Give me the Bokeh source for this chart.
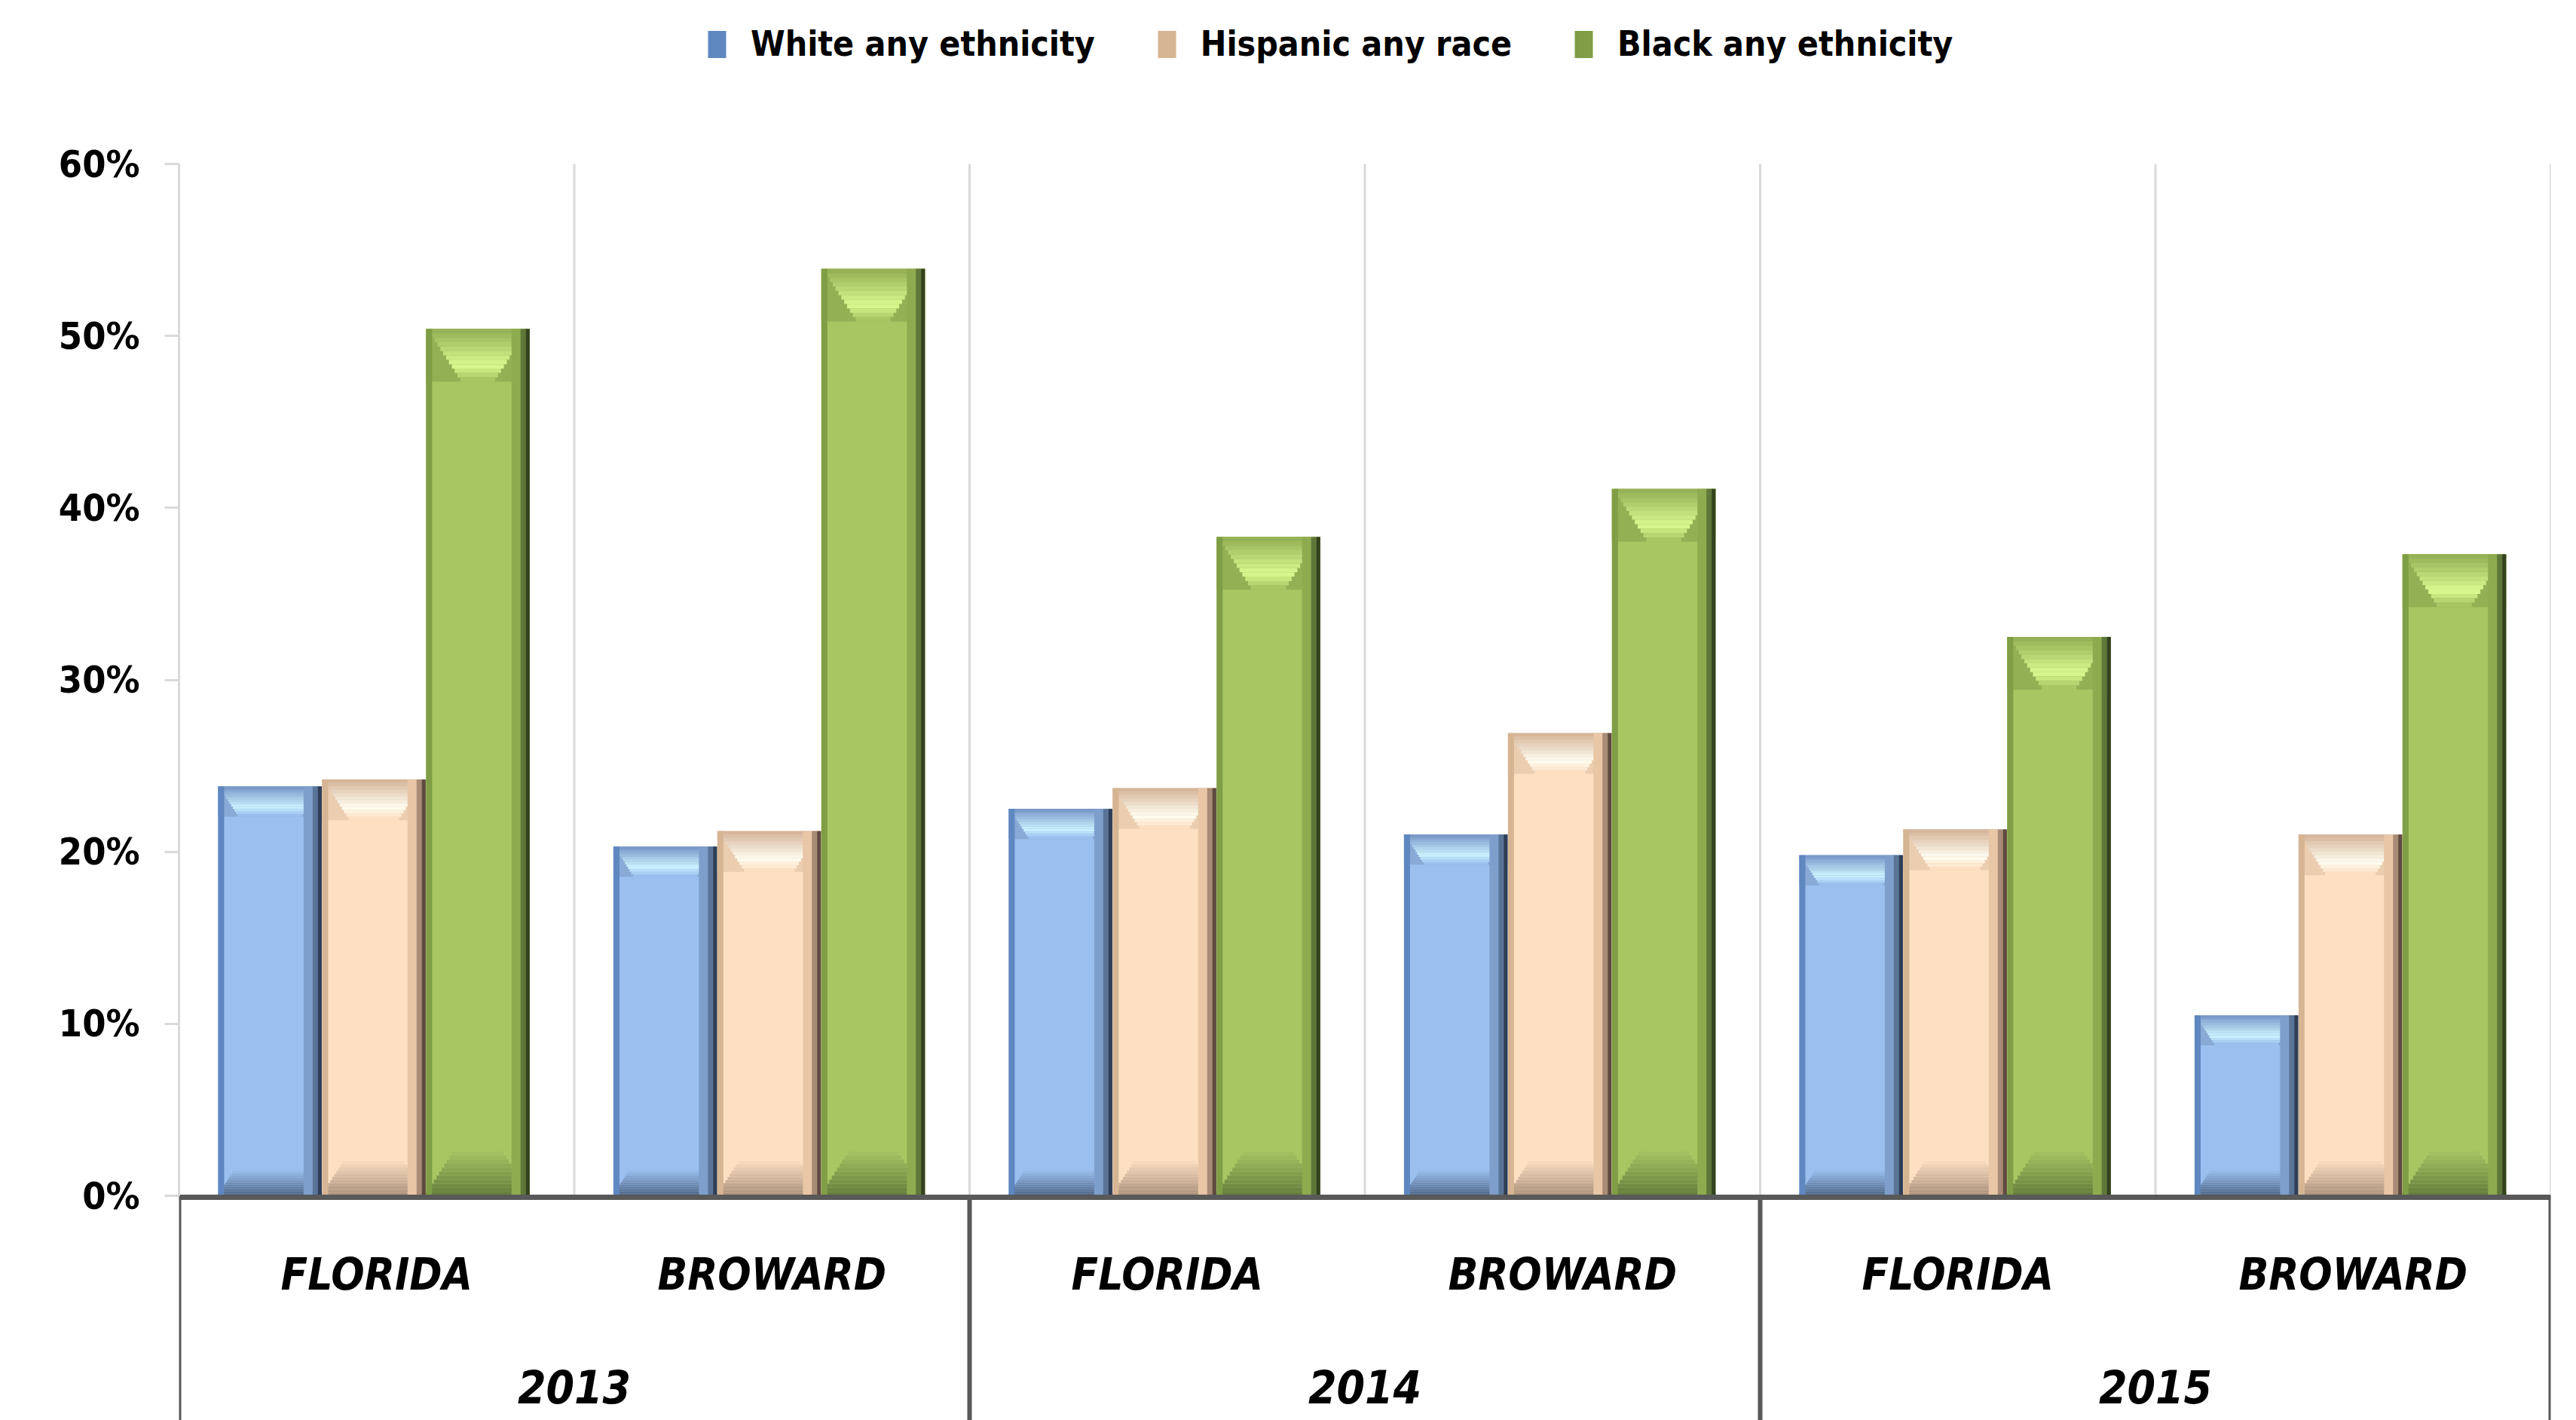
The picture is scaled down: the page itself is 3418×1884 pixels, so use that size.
from bokeh.plotting import figure
from bokeh.models import Range1d, FixedTicker, PrintfTickFormatter, Legend, LegendItem
from bokeh.core.properties import value
from bokeh.embed import file_html
from bokeh.resources import INLINE

# ---------------- data ----------------
years = ["2013", "2014", "2015"]
regions = ["FLORIDA", "BROWARD"]
series_names = ["White any ethnicity", "Hispanic any race", "Black any ethnicity"]
white = [23.8, 20.3, 22.5, 21.0, 19.8, 10.5]
hispanic = [24.2, 21.2, 23.7, 26.9, 21.3, 21.0]
black = [50.4, 53.9, 38.3, 41.1, 32.5, 37.3]
y_ticks = [0, 10, 20, 30, 40, 50, 60]

# ---------------- layout constants ----------------
W, H = 3418, 1884
LEFT, RIGHT, TOP = 237, 34, 217
AXIS_PX = 1586
Y_MAX = 60
px_per_pct = (AXIS_PX - TOP) / Y_MAX
y_bottom = -(H - AXIS_PX) / px_per_pct
y_top = Y_MAX + TOP / px_per_pct
n_cat = len(years) * len(regions)
px_per_cat = (W - LEFT - RIGHT) / n_cat

FONT = "'DejaVu Sans Condensed', 'Liberation Sans Narrow', 'DejaVu Sans', sans-serif"


def px2x(px):
    return px / px_per_cat


def px2y(px):
    return px / px_per_pct


def hex2rgb(h):
    h = h.lstrip("#")
    return tuple(int(h[i:i + 2], 16) for i in (0, 2, 4))


def mix(c1, c2, t):
    a, b = hex2rgb(c1), hex2rgb(c2)
    t = max(0.0, min(1.0, t))
    return "#%02x%02x%02x" % tuple(int(round(a[i] + (b[i] - a[i]) * t)) for i in range(3))


p = figure(width=W, height=H, output_backend="svg", toolbar_location=None,
           x_range=Range1d(0, n_cat), y_range=Range1d(y_bottom, y_top),
           x_axis_location=None, min_border_left=LEFT, min_border_right=RIGHT,
           min_border_top=0, min_border_bottom=0)
p.outline_line_color = None
p.background_fill_color = "white"
p.border_fill_color = "white"
p.grid.grid_line_color = None

# category gridlines (light gray verticals)
bounds = list(range(n_cat + 1))
p.segment(x0=bounds, y0=[0] * len(bounds), x1=bounds, y1=[Y_MAX] * len(bounds),
          line_color="#D9D9D9", line_width=3)

BAR_W = 0.262
offsets = [-0.27, -0.007, 0.256]
styles = [
    dict(main="#9BC0F0", left="#5F87C0", side="#89A9D6", right=["#7E9FCC", "#5A7498", "#2F3E55"],
         rim="#7A9ACA", hi="#CDF4FF", bot="#4F6585", top_h=40, bot_h=36),
    dict(main="#FDE0C2", left="#D6B594", side="#EBCDB0", right=["#E8C6A6", "#A88B76", "#5E4A40"],
         rim="#D6B69C", hi="#FFFEF2", bot="#AE937E", top_h=54, bot_h=50),
    dict(main="#A7C763", left="#7F9E45", side="#93B154", right=["#8EAB50", "#60773A", "#34421F"],
         rim="#96B257", hi="#DBFA90", bot="#667F3E", top_h=70, bot_h=64),
]

legend_renderers = []
for vals, off, st in zip([white, hispanic, black], offsets, styles):
    xs = [i + 0.5 + off for i in range(n_cat)]
    # main body
    p.vbar(x=xs, width=BAR_W, top=vals, bottom=0, fill_color=st["main"], line_color=None)
    # bottom bevel trapezoid (darker)
    M = 12
    dh_px = st["bot_h"] / M
    for k in range(M):
        inset = px2x(k * dh_px * 0.65)
        p.vbar(x=xs, width=BAR_W - 2 * inset, bottom=[px2y(k * dh_px)] * n_cat,
               top=[px2y((k + 1) * dh_px)] * n_cat,
               fill_color=mix(st["bot"], st["main"], k / (M - 1)), line_color=None)
    # top bevel zone + trapezoid (highlight)
    N = 12
    dt_px = st["top_h"] / N
    p.vbar(x=xs, width=BAR_W, top=vals, bottom=[v - px2y(st["top_h"]) for v in vals],
           fill_color=st["side"], line_color=None)
    for k in range(N):
        inset = px2x((k + 1) * dt_px * 0.65)
        t = k / (N - 1)
        col = mix(st["rim"], st["hi"], t / 0.7) if t < 0.7 else mix(st["hi"], st["main"], (t - 0.7) / 0.3)
        p.vbar(x=xs, width=BAR_W - 2 * inset, top=[v - px2y(k * dt_px) for v in vals],
               bottom=[v - px2y((k + 1) * dt_px) for v in vals],
               fill_color=col, line_color=None)
    # top rim
    p.vbar(x=xs, width=BAR_W, top=vals, bottom=[v - px2y(4) for v in vals],
           fill_color=st["rim"], line_color=None)
    # left edge
    lw = px2x(8)
    r_left = p.vbar(x=[x - BAR_W / 2 + lw / 2 for x in xs], width=lw, top=vals, bottom=0,
                    fill_color=st["left"], line_color=None)
    legend_renderers.append(r_left)
    # right edge gradient
    for wpx, col in zip([24, 12, 5], st["right"]):
        sw = px2x(wpx)
        p.vbar(x=[x + BAR_W / 2 - sw / 2 for x in xs], width=sw, top=vals, bottom=0,
               fill_color=col, line_color=None)

# baseline and category frame below the axis
p.segment(x0=[0], y0=[-px2y(2)], x1=[n_cat], y1=[-px2y(2)], line_color="#595959", line_width=7)
group_bounds = list(range(0, n_cat + 1, len(regions)))
p.segment(x0=group_bounds, y0=[0] * len(group_bounds), x1=group_bounds,
          y1=[y_bottom] * len(group_bounds), line_color="#595959", line_width=6)

# category labels
p.text(x=[i + 0.5 for i in range(n_cat)], y=[-px2y(1690 - AXIS_PX)] * n_cat,
       text=regions * len(years), text_align="center", text_baseline="middle",
       text_font=value(FONT), text_font_style="bold italic", text_font_size="58px",
       text_color="black")
p.text(x=[len(regions) * (j + 0.5) for j in range(len(years))],
       y=[-px2y(1839 - AXIS_PX)] * len(years), text=years, text_align="center",
       text_baseline="middle", text_font=value(FONT), text_font_style="bold italic",
       text_font_size="60px", text_color="black")

# y axis
ax = p.yaxis[0]
ax.bounds = (0, Y_MAX)
ax.ticker = FixedTicker(ticks=y_ticks)
ax.formatter = PrintfTickFormatter(format="%d%%")
ax.axis_line_color = "#D9D9D9"
ax.axis_line_width = 3
ax.major_tick_line_color = "#D9D9D9"
ax.major_tick_line_width = 3
ax.major_tick_out = 19
ax.major_tick_in = 0
ax.minor_tick_line_color = None
ax.major_label_text_font = FONT
ax.major_label_text_font_style = "bold"
ax.major_label_text_font_size = "50px"
ax.major_label_text_color = "black"
ax.major_label_standoff = 33

# legend (inside the frame, which spans the full canvas height)
legend = Legend(items=[LegendItem(label=n, renderers=[r]) for n, r in zip(series_names, legend_renderers)],
                orientation="horizontal", location=(936 - LEFT, H - 58 - 27),
                glyph_width=30, glyph_height=45, label_standoff=30, spacing=80,
                padding=0, margin=0, border_line_color=None, background_fill_alpha=0,
                label_text_font=FONT, label_text_font_style="bold", label_text_font_size="46px",
                label_text_color="black", label_text_baseline="middle", label_height=54)
p.add_layout(legend, "center")

open("out.html", "w").write(file_html(p, INLINE))
